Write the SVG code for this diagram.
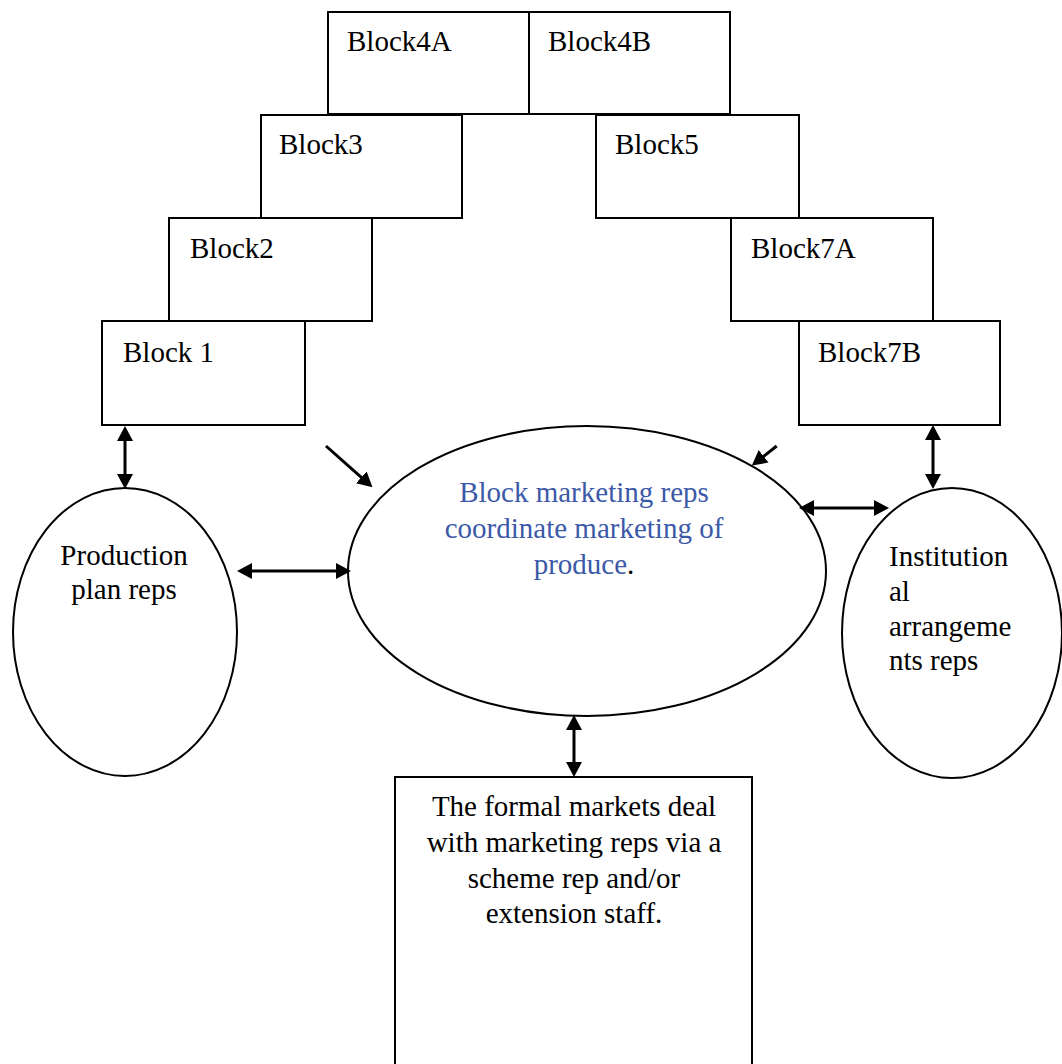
<svg xmlns="http://www.w3.org/2000/svg" width="1062" height="1064" viewBox="0 0 1062 1064">
  <style>
    .box { fill: #ffffff; stroke: #000000; stroke-width: 2; }
    .oval { fill: #ffffff; stroke: #000000; stroke-width: 2; }
    .lbl { font-family: "Liberation Serif", "Times New Roman", serif; font-size: 29px; fill: #000000; }
    .mid { text-anchor: middle; }
    .blue { fill: #3C59A8; }
    .conn { stroke: #000000; stroke-width: 3; fill: none; }
  </style>
  <defs>
    <marker id="head" markerUnits="userSpaceOnUse" markerWidth="15" markerHeight="16" refX="11" refY="8" orient="auto-start-reverse" viewBox="0 0 15 16">
      <path d="M0,0 L15,8 L0,16 z" fill="#000000"/>
    </marker>
  </defs>

  <rect width="1062" height="1064" fill="#ffffff"/>

  <!-- stepped row of blocks -->
  <g id="block4a">
    <rect class="box" x="328" y="12" width="201" height="102"/>
    <text class="lbl" x="347" y="51">Block4A</text>
  </g>
  <g id="block4b">
    <rect class="box" x="529" y="12" width="201" height="102"/>
    <text class="lbl" x="548" y="51">Block4B</text>
  </g>
  <g id="block3">
    <rect class="box" x="261" y="115" width="201" height="103"/>
    <text class="lbl" x="279" y="154">Block3</text>
  </g>
  <g id="block5">
    <rect class="box" x="596" y="115" width="203" height="103"/>
    <text class="lbl" x="615" y="154">Block5</text>
  </g>
  <g id="block2">
    <rect class="box" x="169" y="218" width="203" height="103"/>
    <text class="lbl" x="190" y="258">Block2</text>
  </g>
  <g id="block7a">
    <rect class="box" x="731" y="218" width="202" height="103"/>
    <text class="lbl" x="751" y="258">Block7A</text>
  </g>
  <g id="block1">
    <rect class="box" x="102" y="321" width="203" height="104"/>
    <text class="lbl" x="123" y="362">Block 1</text>
  </g>
  <g id="block7b">
    <rect class="box" x="799" y="321" width="201" height="104"/>
    <text class="lbl" x="818" y="362">Block7B</text>
  </g>

  <!-- reps ovals -->
  <g id="production-reps">
    <ellipse class="oval" cx="125" cy="632" rx="112" ry="144"/>
    <text class="lbl mid" x="124" y="565">Production</text>
    <text class="lbl mid" x="124" y="599">plan reps</text>
  </g>
  <g id="marketing-reps">
    <ellipse class="oval" cx="587" cy="571" rx="239" ry="145"/>
    <text class="lbl mid blue" x="584" y="502">Block marketing reps</text>
    <text class="lbl mid blue" x="584" y="538">coordinate marketing of</text>
    <text class="lbl mid" x="584" y="574"><tspan class="blue">produce</tspan>.</text>
  </g>
  <g id="institutional-reps">
    <ellipse class="oval" cx="952" cy="633" rx="110" ry="145"/>
    <text class="lbl" x="889" y="566">Institution</text>
    <text class="lbl" x="889" y="601">al</text>
    <text class="lbl" x="889" y="636">arrangeme</text>
    <text class="lbl" x="889" y="670">nts reps</text>
  </g>

  <!-- formal markets box -->
  <g id="formal-markets">
    <rect class="box" x="395" y="777" width="357" height="300"/>
    <text class="lbl mid" x="574" y="816">The formal markets deal</text>
    <text class="lbl mid" x="574" y="852">with marketing reps via a</text>
    <text class="lbl mid" x="574" y="888">scheme rep and/or</text>
    <text class="lbl mid" x="574" y="923">extension staff.</text>
  </g>

  <!-- connectors -->
  <g id="connectors">
    <line class="conn" x1="125" y1="430" x2="125" y2="485" marker-start="url(#head)" marker-end="url(#head)"/>
    <line class="conn" x1="241" y1="571" x2="347" y2="571" marker-start="url(#head)" marker-end="url(#head)"/>
    <line class="conn" x1="326" y1="446" x2="369.5" y2="484.7" marker-end="url(#head)"/>
    <line class="conn" x1="776.7" y1="446" x2="755" y2="463.1" marker-end="url(#head)"/>
    <line class="conn" x1="803" y1="508" x2="885" y2="508" marker-start="url(#head)" marker-end="url(#head)"/>
    <line class="conn" x1="933" y1="429" x2="933" y2="485" marker-start="url(#head)" marker-end="url(#head)"/>
    <line class="conn" x1="574" y1="719" x2="574" y2="773" marker-start="url(#head)" marker-end="url(#head)"/>
  </g>
</svg>
